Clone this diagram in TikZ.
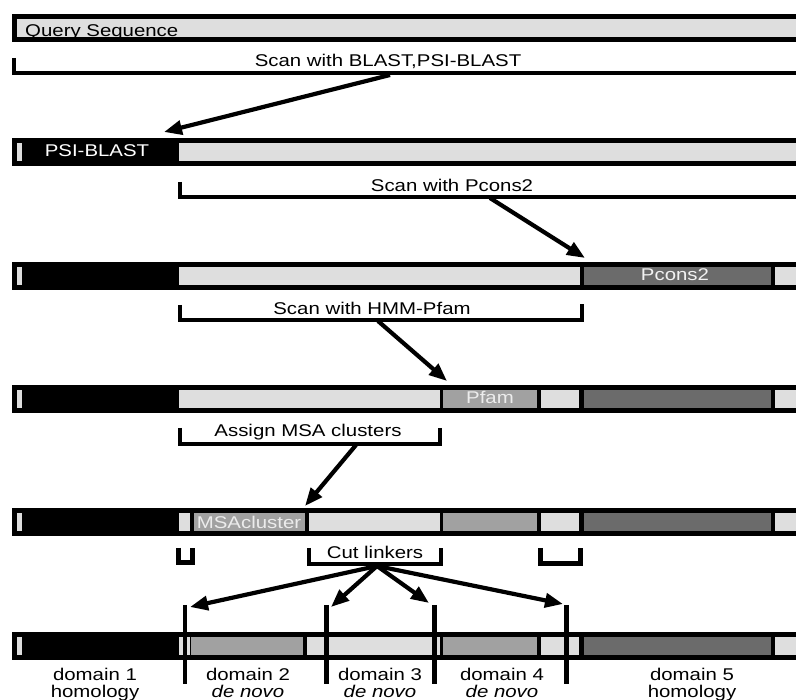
\documentclass[tikz,border=0pt]{standalone}
\usepackage{fontspec}
\newfontfamily\hv[FakeStretch=1.2]{Liberation Sans}
\usetikzlibrary{arrows.meta}
\definecolor{lightseg}{gray}{0.87}
\definecolor{midseg}{gray}{0.63}
\definecolor{darkseg}{gray}{0.42}
\newcommand\mybar[1]{\fill[black] (12,#1) rectangle (796,{#1+28});}
\newcommand\myseg[4]{\fill[#4] (#2,{#1+5}) rectangle (#3,{#1+23});}
\begin{document}
\begin{tikzpicture}[x=1pt,y=-1pt,
  lbl/.style={font=\hv\fontsize{17}{17}\selectfont, inner sep=0pt, anchor=base},
  bracket/.style={line width=4pt, line cap=butt, line join=miter},
  ubracket/.style={line width=5pt, line cap=butt, line join=miter},
  arr/.style={line width=4.2pt, -{Triangle[length=18pt,width=14pt]}},
  cutline/.style={line width=4.5pt}]
\useasboundingbox (0,0) rectangle (796,700);
\fill[white] (0,0) rectangle (796,700);
% ---- bar 1
\mybar{14}
\myseg{14}{17}{796}{lightseg}
\node[lbl, anchor=base west] (query) at (25,37) {Query Sequence};
% ---- bar 2
\mybar{138}
\myseg{138}{17}{22}{lightseg}
\myseg{138}{179}{796}{lightseg}
\node[lbl, text=white] (psib) at (97,157) {PSI-BLAST};
% ---- bar 3
\mybar{262}
\myseg{262}{17}{22}{lightseg}
\myseg{262}{179}{580}{lightseg}
\myseg{262}{584}{771}{darkseg}
\myseg{262}{775}{796}{lightseg}
\node[lbl, text=white!90!gray] (pcons) at (675,281) {Pcons2};
% ---- bar 4
\mybar{385}
\myseg{385}{17}{22}{lightseg}
\myseg{385}{179}{440}{lightseg}
\myseg{385}{443}{537}{midseg}
\myseg{385}{541}{579}{lightseg}
\myseg{385}{584}{771}{darkseg}
\myseg{385}{775}{796}{lightseg}
\node[lbl, text=white!85!gray] (pfam) at (490,404) {Pfam};
% ---- bar 5
\mybar{508}
\myseg{508}{17}{22}{lightseg}
\myseg{508}{179}{190}{lightseg}
\myseg{508}{194}{305}{midseg}
\myseg{508}{309}{440}{lightseg}
\myseg{508}{443}{537}{midseg}
\myseg{508}{541}{579}{lightseg}
\myseg{508}{584}{771}{darkseg}
\myseg{508}{775}{796}{lightseg}
\node[lbl, text=white!85!gray] (msac) at (249,529) {MSAcluster};
% ---- bar 6
\mybar{632}
\myseg{632}{17}{22}{lightseg}
\myseg{632}{179}{190}{lightseg}
\myseg{632}{191}{303}{midseg}
\myseg{632}{307}{440}{lightseg}
\myseg{632}{443}{537}{midseg}
\myseg{632}{541}{579}{lightseg}
\myseg{632}{584}{771}{darkseg}
\myseg{632}{775}{796}{lightseg}
% ---- brackets and labels
\draw[bracket] (14,58) -- (14,73) -- (796,73);
\node[lbl] (scan1) at (388,67) {Scan with BLAST,PSI-BLAST};
\draw[bracket] (180,182) -- (180,197) -- (796,197);
\node[lbl] (scan2) at (452,192) {Scan with Pcons2};
\draw[bracket] (180,305) -- (180,320) -- (582,320) -- (582,304);
\node[lbl] (scan3) at (372,315) {Scan with HMM-Pfam};
\draw[bracket] (180,428) -- (180,444) -- (440,444) -- (440,428);
\node[lbl] (assign) at (308,437) {Assign MSA clusters};
\draw[ubracket] (178,548) -- (178,563) -- (192,563) -- (192,548);
\draw[bracket] (309,548) -- (309,564) -- (441,564) -- (441,548);
\node[lbl] (cut) at (375,559) {Cut linkers};
\draw[ubracket] (540,548) -- (540,564) -- (580,564) -- (580,548);
% ---- arrow coordinates
\coordinate (a1s) at (390,75);
\coordinate (a1e) at (164,132);
\coordinate (a2s) at (490,198);
\coordinate (a2e) at (585,258);
\coordinate (a3s) at (378,321);
\coordinate (a3e) at (447,381);
\coordinate (a4s) at (356,445);
\coordinate (a4e) at (305,506);
\coordinate (cs) at (377,566);
\coordinate (c1) at (190,607);
\coordinate (c2) at (331,607);
\coordinate (c3) at (429,603);
\coordinate (c4) at (563,604);
\draw[arr] (a1s) -- (a1e);
\draw[arr] (a2s) -- (a2e);
\draw[arr] (a3s) -- (a3e);
\draw[arr] (a4s) -- (a4e);
\draw[arr] (cs) -- (c1);
\draw[arr] (cs) -- (c2);
\draw[arr] (cs) -- (c3);
\draw[arr] (cs) -- (c4);
% ---- cut lines
\coordinate (v1t) at (185,605); \coordinate (v1b) at (185,684);
\coordinate (v2t) at (326.5,605); \coordinate (v2b) at (326.5,684);
\coordinate (v3t) at (434.5,605); \coordinate (v3b) at (434.5,684);
\coordinate (v4t) at (566.5,605); \coordinate (v4b) at (566.5,684);
\draw[cutline] (v1t) -- (v1b);
\draw[cutline] (v2t) -- (v2b);
\draw[cutline] (v3t) -- (v3b);
\draw[cutline] (v4t) -- (v4b);
% ---- domain labels
\node[lbl] (d1a) at (95,680) {domain 1};
\node[lbl] (d1b) at (95,697) {homology};
\node[lbl] (d2a) at (248,680) {domain 2};
\node[lbl] (d2b) at (248,697) {\itshape de novo};
\node[lbl] (d3a) at (380,680) {domain 3};
\node[lbl] (d3b) at (380,697) {\itshape de novo};
\node[lbl] (d4a) at (502,680) {domain 4};
\node[lbl] (d4b) at (502,697) {\itshape de novo};
\node[lbl] (d5a) at (692,680) {domain 5};
\node[lbl] (d5b) at (692,697) {homology};
\end{tikzpicture}
\end{document}
